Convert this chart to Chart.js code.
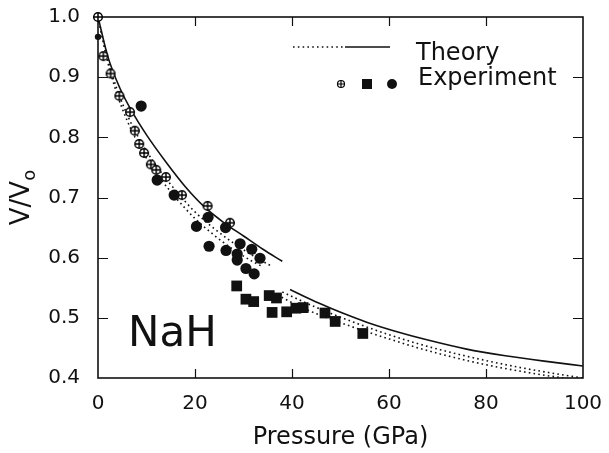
<!DOCTYPE html>
<html>
<head>
<meta charset="utf-8">
<script src="https://cdn.jsdelivr.net/npm/chart.js@4/dist/chart.umd.min.js"></script>
<style>
html,body{margin:0;padding:0;background:#fff;}
#c{display:block;}
</style>
</head>
<body>
<canvas id="c" width="609" height="453"></canvas>
<script>
// ---- tick labels ----
const pressureTicks = [0, 20, 40, 60, 80, 100];
const volumeTicks = [0.4, 0.5, 0.6, 0.7, 0.8, 0.9, 1.0];

// ---- theory curves ----
const b1SolidP = [0, 2, 4.5, 7, 10, 14, 18, 22, 26, 30, 34, 38];
const b1SolidV = [1.0, 0.935, 0.882, 0.843, 0.804, 0.759, 0.718, 0.684, 0.658, 0.636, 0.614, 0.594];
const b1DotAP = [0, 2, 4, 6, 8, 10, 13, 16, 20, 24, 28, 32, 36];
const b1DotAV = [1.0, 0.93, 0.878, 0.838, 0.805, 0.777, 0.742, 0.712, 0.676, 0.648, 0.624, 0.603, 0.585];
const b1DotBP = [0, 2, 4, 6, 8, 10, 13, 16, 20, 24, 28, 32, 34];
const b1DotBV = [1.0, 0.925, 0.870, 0.828, 0.794, 0.765, 0.730, 0.700, 0.665, 0.637, 0.613, 0.593, 0.585];

const b2SolidP = [39.6, 44, 48, 52, 56, 62, 68, 76, 84, 92, 100];
const b2SolidV = [0.547, 0.530, 0.516, 0.503, 0.491, 0.476, 0.463, 0.448, 0.437, 0.428, 0.420];
const b2DotAP = [38, 42, 46, 50, 55, 60, 66, 72, 80, 88, 96, 100];
const b2DotAV = [0.543, 0.528, 0.514, 0.501, 0.486, 0.472, 0.457, 0.444, 0.429, 0.416, 0.405, 0.400];
const b2DotBP = [37, 41, 45, 50, 55, 60, 66, 72, 80, 88, 96, 98];
const b2DotBV = [0.538, 0.521, 0.507, 0.492, 0.478, 0.465, 0.450, 0.437, 0.422, 0.410, 0.400, 0.398];

// ---- experiment ----
const crossP = [0, 1.1, 2.6, 4.4, 6.6, 7.6, 8.5, 9.5, 10.9, 12.0, 14.0, 17.3, 22.6, 27.2];
const crossV = [1.0, 0.935, 0.906, 0.869, 0.842, 0.811, 0.789, 0.774, 0.755, 0.746, 0.734, 0.704, 0.686, 0.658];

const circleP = [0, 8.9, 12.2, 15.7, 20.3, 22.7, 22.9, 26.3, 26.4, 28.7, 28.7, 29.3, 30.5, 31.7, 32.2, 33.4];
const circleV = [0.967, 0.852, 0.729, 0.704, 0.652, 0.667, 0.619, 0.650, 0.612, 0.606, 0.596, 0.623, 0.582, 0.614, 0.573, 0.599];

const squareP = [28.6, 30.5, 32.1, 35.3, 36.8, 35.9, 38.9, 40.8, 42.3, 46.8, 48.9, 54.6];
const squareV = [0.553, 0.531, 0.527, 0.537, 0.533, 0.509, 0.510, 0.516, 0.517, 0.508, 0.494, 0.474];

const xTitle = 'Pressure (GPa)';
const legendTheory = 'Theory';
const legendExperiment = 'Experiment';
const compoundLabel = 'NaH';

const INK = '#111';
const FONT = "'DejaVu Sans', sans-serif";

function pts(px, py) { return px.map((p, i) => ({ x: p, y: py[i] })); }

function makeCrossCircle(size, r, lw) {
  const cv = document.createElement('canvas');
  cv.width = size; cv.height = size;
  const c = cv.getContext('2d');
  const m = size / 2;
  c.fillStyle = '#fff';
  c.strokeStyle = '#000';
  c.lineWidth = lw;
  c.beginPath(); c.arc(m, m, r, 0, Math.PI * 2); c.fill(); c.stroke();
  c.beginPath();
  c.moveTo(m - r, m); c.lineTo(m + r, m);
  c.moveTo(m, m - r); c.lineTo(m, m + r);
  c.stroke();
  return cv;
}
const crossImg = makeCrossCircle(12, 4.3, 1.5);
const crossImgSmall = makeCrossCircle(10, 3.5, 1.2);

function lineDs(px, py, dotted) {
  return {
    type: 'scatter',
    data: pts(px, py),
    showLine: true,
    borderColor: INK,
    borderWidth: 1.6,
    borderDash: dotted ? [1.6, 3.2] : [],
    pointRadius: 0,
    cubicInterpolationMode: 'monotone',
    fill: false,
    order: 5
  };
}

const datasets = [
  { data: pts(circleP, circleV), pointStyle: 'circle', pointRadius: c => (c.dataIndex === 0 ? 3.2 : 5.6), backgroundColor: INK, borderColor: INK, borderWidth: 0, order: 0, clip: 10 },
  { data: pts(squareP, squareV), pointStyle: 'rect', pointRadius: 7.6, backgroundColor: INK, borderColor: INK, borderWidth: 0, order: 1, clip: 10 },
  { data: pts(crossP, crossV), pointStyle: crossImg, pointRadius: 6, order: 2, clip: 10 },
  lineDs(b1SolidP, b1SolidV, false),
  lineDs(b1DotAP, b1DotAV, true),
  lineDs(b1DotBP, b1DotBV, true),
  lineDs(b2SolidP, b2SolidV, false),
  lineDs(b2DotAP, b2DotAV, true),
  lineDs(b2DotBP, b2DotBV, true)
];

const decor = {
  id: 'decor',
  beforeDatasetsDraw(chart) {
    const { ctx, chartArea: a, scales: { x, y } } = chart;
    ctx.save();
    // frame
    ctx.strokeStyle = INK;
    ctx.lineWidth = 1.6;
    ctx.strokeRect(a.left, a.top, a.right - a.left, a.bottom - a.top);
    // inward ticks on all four sides
    ctx.lineWidth = 1.2;
    ctx.beginPath();
    pressureTicks.forEach(v => {
      if (v === x.min || v === x.max) return;
      const px = Math.round(x.getPixelForValue(v)) + 0.5;
      ctx.moveTo(px, a.bottom); ctx.lineTo(px, a.bottom - 9);
      ctx.moveTo(px, a.top); ctx.lineTo(px, a.top + 9);
    });
    volumeTicks.forEach(v => {
      if (Math.abs(v - y.min) < 1e-9 || Math.abs(v - y.max) < 1e-9) return;
      const py = Math.round(y.getPixelForValue(v)) + 0.5;
      ctx.moveTo(a.left, py); ctx.lineTo(a.left + 10, py);
      ctx.moveTo(a.right, py); ctx.lineTo(a.right - 10, py);
    });
    ctx.stroke();
    ctx.restore();
  },
  afterDatasetsDraw(chart) {
    const { ctx, chartArea: a } = chart;
    ctx.save();
    ctx.strokeStyle = INK;
    // legend
    const ly1 = a.top + 30;
    ctx.lineWidth = 1.6;
    ctx.setLineDash([1.6, 3.2]);
    ctx.beginPath(); ctx.moveTo(a.left + 195, ly1); ctx.lineTo(a.left + 246, ly1); ctx.stroke();
    ctx.setLineDash([]);
    ctx.beginPath(); ctx.moveTo(a.left + 247, ly1); ctx.lineTo(a.left + 292, ly1); ctx.stroke();
    ctx.fillStyle = INK;
    ctx.font = '24px ' + FONT;
    ctx.textBaseline = 'alphabetic';
    ctx.textAlign = 'left';
    ctx.fillText(legendTheory, a.left + 318, a.top + 43);
    const ly2 = a.top + 67;
    ctx.drawImage(crossImgSmall, a.left + 243 - 5, ly2 - 5);
    ctx.fillRect(a.left + 264, ly2 - 5, 10, 10);
    ctx.beginPath(); ctx.arc(a.left + 294, ly2, 5, 0, Math.PI * 2); ctx.fill();
    ctx.fillText(legendExperiment, a.left + 320, a.top + 68);

    // compound label
    ctx.font = '42px ' + FONT;
    ctx.fillText(compoundLabel, a.left + 30, a.top + 329);

    // y-axis title V/Vo (rotated, with subscript o)
    ctx.translate(22, (a.top + a.bottom) / 2);
    ctx.rotate(-Math.PI / 2);
    ctx.font = '26px ' + FONT;
    const mainW = ctx.measureText('V/V').width;
    ctx.font = '18px ' + FONT;
    const subW = ctx.measureText('o').width;
    const startX = -(mainW + subW) / 2;
    ctx.font = '26px ' + FONT;
    ctx.textBaseline = 'middle';
    ctx.fillText('V/V', startX, 0);
    ctx.font = '18px ' + FONT;
    ctx.fillText('o', startX + mainW, 8);
    ctx.restore();
  }
};

new Chart(document.getElementById('c'), {
  type: 'scatter',
  data: { datasets },
  options: {
    responsive: false,
    animation: false,
    devicePixelRatio: 1,
    layout: { padding: { top: 17, right: 26, left: 0, bottom: 0 } },
    plugins: { legend: { display: false }, tooltip: { enabled: false } },
    scales: {
      x: {
        type: 'linear', min: 0, max: 100,
        afterBuildTicks: s => { s.ticks = pressureTicks.map(v => ({ value: v })); },
        afterFit: s => { s.height = 75; s.paddingLeft = 0; s.paddingRight = 0; },
        grid: { display: false, drawTicks: false },
        border: { display: false },
        ticks: { color: INK, font: { family: FONT, size: 20 }, padding: 14, maxRotation: 0 },
        title: { display: true, text: xTitle, color: INK, font: { family: FONT, size: 24 }, padding: { top: 0, bottom: 1 } }
      },
      y: {
        type: 'linear', min: 0.4, max: 1.0,
        afterBuildTicks: s => { s.ticks = volumeTicks.map(v => ({ value: v })); },
        afterFit: s => { s.width = 98; s.paddingTop = 0; s.paddingBottom = 0; },
        grid: { display: false, drawTicks: false },
        border: { display: false },
        ticks: { color: INK, font: { family: FONT, size: 20 }, padding: 18, callback: v => Number(v).toFixed(1) }
      }
    }
  },
  plugins: [decor]
});
</script>
</body>
</html>
